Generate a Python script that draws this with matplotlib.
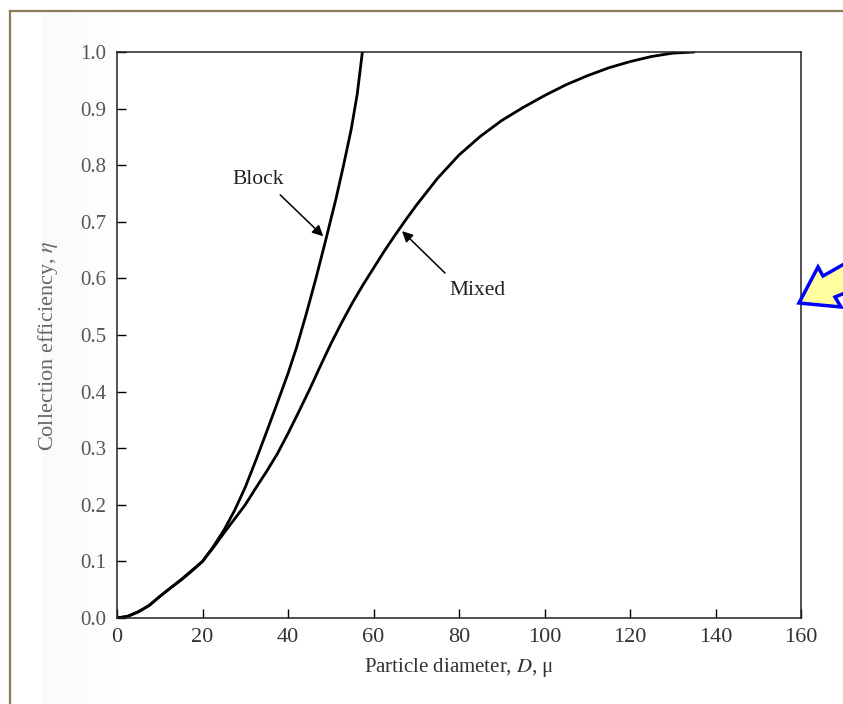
import numpy as np
import matplotlib
matplotlib.use("Agg")
import matplotlib.pyplot as plt
from matplotlib.lines import Line2D
from matplotlib.patches import Polygon

# values
block_d = [0, 2.5, 5, 7.5, 10, 12.5, 15, 17.5, 20, 22.5, 25, 27.5, 30, 32.5, 35,
           37.5, 40, 42, 44.3, 46.6, 48.8, 51.2, 53, 54.8, 56.2, 57.4]
block_eta = [0, 0.003, 0.011, 0.022, 0.038, 0.053, 0.068, 0.084, 0.100, 0.126, 0.155,
             0.190, 0.231, 0.279, 0.329, 0.380, 0.432, 0.478, 0.538, 0.602, 0.667, 0.740,
             0.800, 0.864, 0.926, 1.0]

mixed_d = [0, 2.5, 5, 7.5, 10, 12.5, 15, 17.5, 20, 22.5, 25, 27.5, 30, 32.5, 35, 37.5,
           40, 42.5, 45, 47.5, 50, 52.5, 55, 57.5, 60, 62.5, 65, 67.5, 70, 75, 80, 85,
           90, 95, 100, 105, 110, 115, 120, 125, 130, 135]
mixed_eta = [0, 0.003, 0.011, 0.022, 0.038, 0.053, 0.067, 0.083, 0.100, 0.124, 0.150,
             0.175, 0.200, 0.230, 0.259, 0.290, 0.326, 0.364, 0.403, 0.444, 0.484, 0.521,
             0.556, 0.588, 0.618, 0.648, 0.676, 0.703, 0.729, 0.777, 0.818, 0.851,
             0.879, 0.902, 0.923, 0.942, 0.958, 0.972, 0.983, 0.992, 0.998, 1.0]

x_ticks = [0, 20, 40, 60, 80, 100, 120, 140, 160]
y_ticks = [0.0, 0.1, 0.2, 0.3, 0.4, 0.5, 0.6, 0.7, 0.8, 0.9, 1.0]

plt.rcParams["font.family"] = ["Liberation Serif", "DejaVu Serif"]
plt.rcParams["mathtext.fontset"] = "stix"

W, H = 843, 704
fig = plt.figure(figsize=(W / 100, H / 100), dpi=100)
fig.patch.set_facecolor("white")

# faint grey page margin of the scan
band = fig.add_axes([42 / W, 0, 80 / W, 1 - 12 / H], zorder=0)
grad = np.linspace(0.0, 1.0, 200)[None, :]
band.imshow(grad, aspect="auto", cmap="Greys_r", vmin=-8, vmax=1.0,
            extent=[0, 1, 0, 1], alpha=0.35)
band.axis("off")

# olive frame of the slide
fig.add_artist(Line2D([10 / W, 10 / W], [0, 1 - 11 / H], transform=fig.transFigure,
                      color="#8c7d58", lw=1.6))
fig.add_artist(Line2D([10 / W, 1], [1 - 11 / H, 1 - 11 / H], transform=fig.transFigure,
                      color="#8c7d58", lw=1.6))

ax = fig.add_axes([117 / W, 1 - 618 / H, 684 / W, 566 / H], zorder=2)
ax.set_facecolor("white")

ax.plot(block_d, block_eta, color="black", lw=2.0, solid_capstyle="round",
        solid_joinstyle="round")
ax.plot(mixed_d, mixed_eta, color="black", lw=2.0, solid_capstyle="round",
        solid_joinstyle="round")

ax.set_xlim(0, 160)
ax.set_ylim(0, 1.0)
ax.set_xticks(x_ticks)
ax.set_yticks(y_ticks)
ax.set_xticklabels([str(t) for t in x_ticks], color="#333333")
ax.set_yticklabels([f"{t:.1f}" for t in y_ticks], color="#555555")
ax.tick_params(direction="in", length=6.5, width=1.0, pad=8, top=False, right=False)
ax.tick_params(axis="x", labelsize=16, pad=7)
ax.tick_params(axis="y", labelsize=15)
for s in ax.spines.values():
    s.set_linewidth(1.1)
    s.set_color("#222222")

ax.set_xlabel("Particle diameter, $D$, \u03bc", fontsize=15, color="#333333", labelpad=7)
ax.set_ylabel("Collection efficiency, $\\eta$", fontsize=16, color="#666666")
ax.yaxis.set_label_coords(-0.084, 0.48)

# curve labels
ax.text(33.0, 0.774, "Block", fontsize=15.5, ha="center", va="center", color="#222222")
ax.annotate("", xy=(48.7, 0.671), xytext=(37.7, 0.751),
            arrowprops=dict(arrowstyle="-|>", lw=1.1, color="black", mutation_scale=16))
ax.text(84.4, 0.578, "Mixed", fontsize=15.5, ha="center", va="center", color="#222222")
ax.annotate("", xy=(66.2, 0.687), xytext=(77.2, 0.606),
            arrowprops=dict(arrowstyle="-|>", lw=1.1, color="black", mutation_scale=16))

# yellow pointer arrow cut by the right edge
pts = [(799, 303), (818, 267), (823, 276), (860, 255), (860, 287), (835, 297), (841, 307)]
arrow = Polygon([(x / W, 1 - y / H) for x, y in pts], closed=True,
                transform=fig.transFigure, facecolor="#ffffa0", edgecolor="#0000ff",
                lw=2.5, joinstyle="miter", zorder=5)
fig.add_artist(arrow)

fig.savefig("out.png", dpi=100)
